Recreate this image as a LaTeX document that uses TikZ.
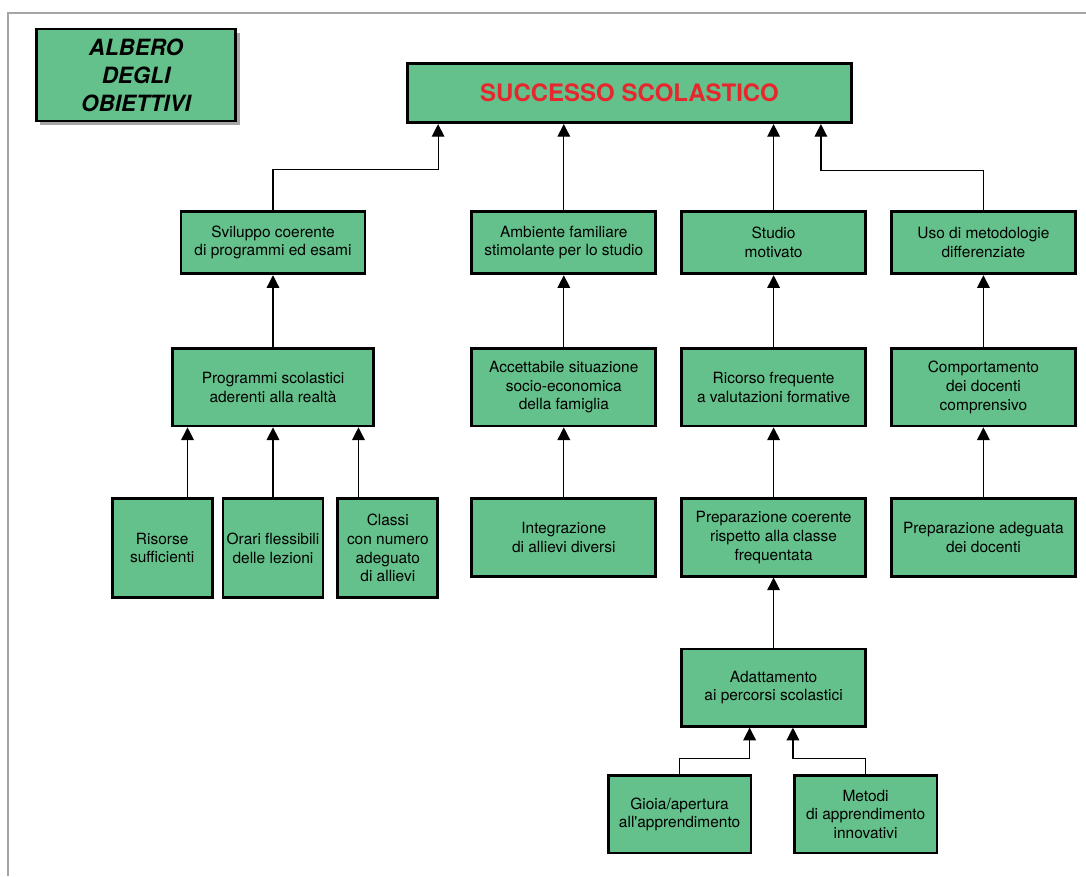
\documentclass[tikz,border=0pt]{standalone}
\usepackage{fontspec}
\setmainfont{TeX Gyre Heros}
\usepackage{tikz}
\usetikzlibrary{arrows.meta, positioning, shadows}
\definecolor{albero}{RGB}{100,193,139}
\definecolor{albred}{RGB}{232,38,45}
\definecolor{cornice}{RGB}{165,165,165}

\begin{document}
\begin{tikzpicture}[x=0.75pt, y=-0.75pt,
      obj/.style={draw, line width=2.1pt, fill=albero, inner sep=1pt, align=center, font=\fontsize{11.6}{14}\selectfont, minimum width=138pt, minimum height=58pt},
      objbasso/.style={obj, minimum height=47pt},
      objpic/.style={obj, minimum width=75pt, minimum height=74pt},
      goal/.style={obj, minimum width=333pt, minimum height=44.5pt, font=\fontsize{18}{21}\selectfont\bfseries, text=albred},
      titolo/.style={obj, minimum width=149.5pt, minimum height=69pt, font=\fontsize{16.8}{21}\selectfont\bfseries\itshape, drop shadow={shadow xshift=3pt, shadow yshift=-3pt, fill=black!35, opacity=1}},
      arr/.style={-{Triangle[length=9.5pt, width=9.5pt]}, line width=0.9pt}]
    \useasboundingbox (0,0) rectangle (1086,876);
    \draw[cornice, line width=1.3pt] (1086,13) -- (8,13) -- (8,876);
    \node[titolo] (tit) at (136,75) {ALBERO\\DEGLI\\OBIETTIVI};
    \node[goal] (succ) at (629.5,93) {SUCCESSO SCOLASTICO};
    % primo livello
    \node[objbasso] (svil) at (273,242.5) {Sviluppo coerente\\di programmi ed esami};
    \node[objbasso, right=78pt of svil] (amb) {Ambiente familiare\\stimolante per lo studio};
    \node[objbasso, right=17.25pt of amb] (stud) {Studio\\motivato};
    \node[objbasso, right=17.25pt of stud] (uso) {Uso di metodologie\\differenziate};
    % secondo livello
    \node[obj, minimum width=151pt, below=54pt of svil] (prog) {Programmi scolastici\\aderenti alla realtà};
    \node[obj, below=54pt of amb] (acc) {Accettabile situazione\\socio-economica\\della famiglia};
    \node[obj, below=54pt of stud] (ric) {Ricorso frequente\\a valutazioni formative};
    \node[obj, below=54pt of uso] (comp) {Comportamento\\dei docenti\\comprensivo};
    % terzo livello
    \node[objpic, below=52.5pt of prog] (orari) {Orari flessibili\\delle lezioni};
    \node[objpic, left=6pt of orari] (ris) {Risorse\\sufficienti};
    \node[objpic, right=9pt of orari] (classi) {Classi\\con numero\\adeguato\\di allievi};
    \node[obj, below=52.5pt of acc] (integr) {Integrazione\\di allievi diversi};
    \node[obj, below=52.5pt of ric] (prep) {Preparazione coerente\\rispetto alla classe\\frequentata};
    \node[obj, below=52.5pt of comp] (prepdoc) {Preparazione adeguata\\dei docenti};
    % quarto e quinto livello
    \node[obj, below=52.5pt of prep] (adatt) {Adattamento\\ai percorsi scolastici};
    \node[obj, minimum width=107pt, below=35pt of adatt, xshift=-70.5pt] (gioia) {Gioia/apertura\\all\textquotesingle apprendimento};
    \node[obj, minimum width=107pt, below=35pt of adatt, xshift=69pt] (metodi) {Metodi\\di apprendimento\\innovativi};
    % frecce
    \draw[arr] (svil.north) -- ++(0,-40) -| ([xshift=24pt]succ.south west);
    \draw[arr] (amb.north) -- (amb.north |- succ.south);
    \draw[arr] (stud.north) -- (stud.north |- succ.south);
    \draw[arr] (uso.north) -- ++(0,-39) -| ([xshift=-24pt]succ.south east);
    \foreach \a/\b in {prog/svil, acc/amb, ric/stud, comp/uso, integr/acc, prep/ric, prepdoc/comp, adatt/prep}
      \draw[arr] (\a.north) -- (\b.south);
    \draw[arr] (orari.north) -- (orari.north |- prog.south);
    \draw[arr] ([xshift=19pt]ris.north) -- ([xshift=19pt]ris.north |- prog.south);
    \draw[arr] ([xshift=-22pt]classi.north) -- ([xshift=-22pt]classi.north |- prog.south);
    \draw[arr] (gioia.north) -- ++(0,-16) -| ([xshift=-18pt]adatt.south);
    \draw[arr] (metodi.north) -- ++(0,-16) -| ([xshift=14.5pt]adatt.south);
  \end{tikzpicture}
\end{document}
